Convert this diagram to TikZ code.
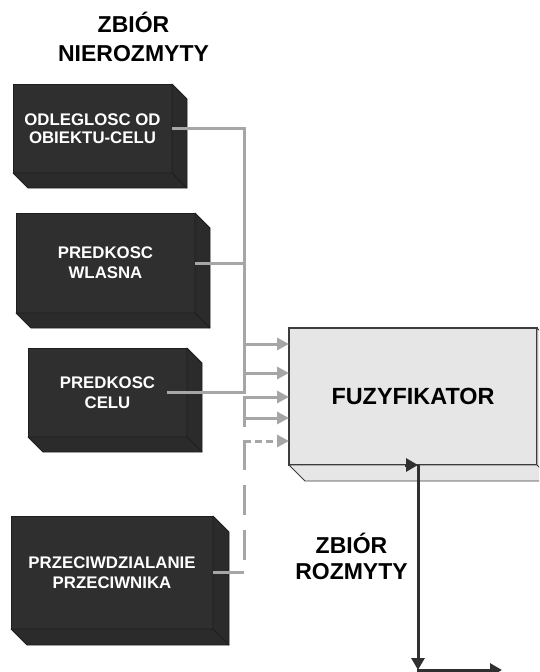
\documentclass[tikz,border=0pt]{standalone}
\usepackage{fontspec}
\setmainfont{Liberation Sans}
\usetikzlibrary{arrows.meta,calc}
\definecolor{boxdark}{HTML}{2F2F2F}
\definecolor{boxside}{HTML}{2B2B2B}
\definecolor{boxedge}{HTML}{1E1E1E}
\definecolor{fzfill}{HTML}{E6E6E6}
\definecolor{fzedge}{HTML}{3C3C3C}
\definecolor{conn}{HTML}{A6A6A6}
\definecolor{outcol}{HTML}{303030}
\newcommand{\boxextrude}[4]{%
  \filldraw[fill=#3, draw=#4, line width=0.8pt, line join=round]
    (#1.north east) -- ++(#2,#2) -- ($(#1.south east)+(#2,#2)$) -- ($(#1.south west)+(#2,#2)$)
    -- (#1.south west) -- (#1.south east) -- cycle;
  \draw[draw=#4, line width=0.8pt] (#1.south east) -- ++(#2,#2);}
\tikzset{
  darkbox/.style={fill=boxdark, draw=boxedge, line width=0.8pt, inner sep=0pt, outer sep=0pt,
    text=white, font=\bfseries\fontsize{16.8}{20}\selectfont, align=center, anchor=north west},
  fzbox/.style={fill=fzfill, draw=fzedge, line width=1.4pt, inner sep=0pt, outer sep=0pt,
    font=\bfseries\fontsize{23.4}{28}\selectfont, anchor=north west},
  title/.style={font=\bfseries\fontsize{23}{29}\selectfont, align=center, inner sep=0pt},
  gline/.style={draw=conn, line width=3pt},
  garrow/.style={gline, -{Triangle[length=12pt,width=12pt]}},
  darkline/.style={draw=outcol, line width=3pt},
  darrow/.style={darkline, -{Triangle[length=12pt,width=13pt]}}
}
\begin{document}
\begin{tikzpicture}[x=1pt,y=-1pt]
\useasboundingbox (0,0) rectangle (539,672);
\clip (0,0) rectangle (539,672);

% titles
\node[title] (t1) at (133.5,37) {ZBIÓR\\NIEROZMYTY};
\node[title, font=\bfseries\fontsize{23}{26}\selectfont] (t2) at (351.5,556) {ZBIÓR\\ROZMYTY};

% dark input boxes
\node[darkbox, minimum width=159pt, minimum height=89pt] (b1) at (13,84) {ODLEGLOSC OD\\[-2pt]OBIEKTU-CELU};
\boxextrude{b1}{15}{boxside}{boxedge}
\node[darkbox, minimum width=179pt, minimum height=100pt] (b2) at (16,213) {PREDKOSC\\WLASNA};
\boxextrude{b2}{15}{boxside}{boxedge}
\node[darkbox, minimum width=159pt, minimum height=89pt] (b3) at (28,348) {PREDKOSC\\CELU};
\boxextrude{b3}{15}{boxside}{boxedge}
\node[darkbox, minimum width=202pt, minimum height=113pt] (b4) at (11,516) {PRZECIWDZIALANIE\\PRZECIWNIKA};
\boxextrude{b4}{16}{boxside}{boxedge}

% fuzyfikator
\node[fzbox, minimum width=248pt, minimum height=137pt] (fz) at (289,328) {FUZYFIKATOR};
\boxextrude{fz}{16}{fzfill}{fzedge}

% connectors
\coordinate (j1) at (244,128.5);
\coordinate (j3) at (244,392.5);
\coordinate (a1) at (244,344);
\coordinate (a2) at (244,373);
\coordinate (a3) at (244,397);
\coordinate (a4) at (244,418);
\coordinate (a3e) at (244,427);
\coordinate (a5) at (244,441);
\coordinate (d1) at (244,560);
\coordinate (d2) at (244,572.5);

\draw[gline] (b1.east) -- (j1) -- (j3) -- ($(b3.east)+(-20,0)$);
\draw[gline] (b2.east) -- (b2.east -| j1);
\draw[garrow] (a1) -- (a1 -| fz.west);
\draw[garrow] (a2) -- (a2 -| fz.west);
\draw[gline] ($(a3)+(0,-1.5)$) -- (a3e);
\draw[garrow] (a3) -- (a3 -| fz.west);
\draw[garrow] (a4) -- (a4 -| fz.west);
\draw[gline, dash pattern=on 30pt off 15pt] ($(a5)+(0,-1.5)$) -- (d1);
\draw[gline, dash pattern=on 7pt off 4pt, -{Triangle[length=12pt,width=12pt]}] (a5) -- (a5 -| fz.west);
\draw[gline] (b4.east) -- (d2);

% output
\coordinate (o1) at (418,465);
\coordinate (o0) at (405,465);
\coordinate (o2) at (418,670);
\coordinate (o3) at (502,670);
\draw[darrow] (o0) -- (o1);
\draw[darrow] (o1) -- (o2);
\draw[darrow] ($(o2)+(-1.5,0)$) -- (o3);
\end{tikzpicture}
\end{document}
